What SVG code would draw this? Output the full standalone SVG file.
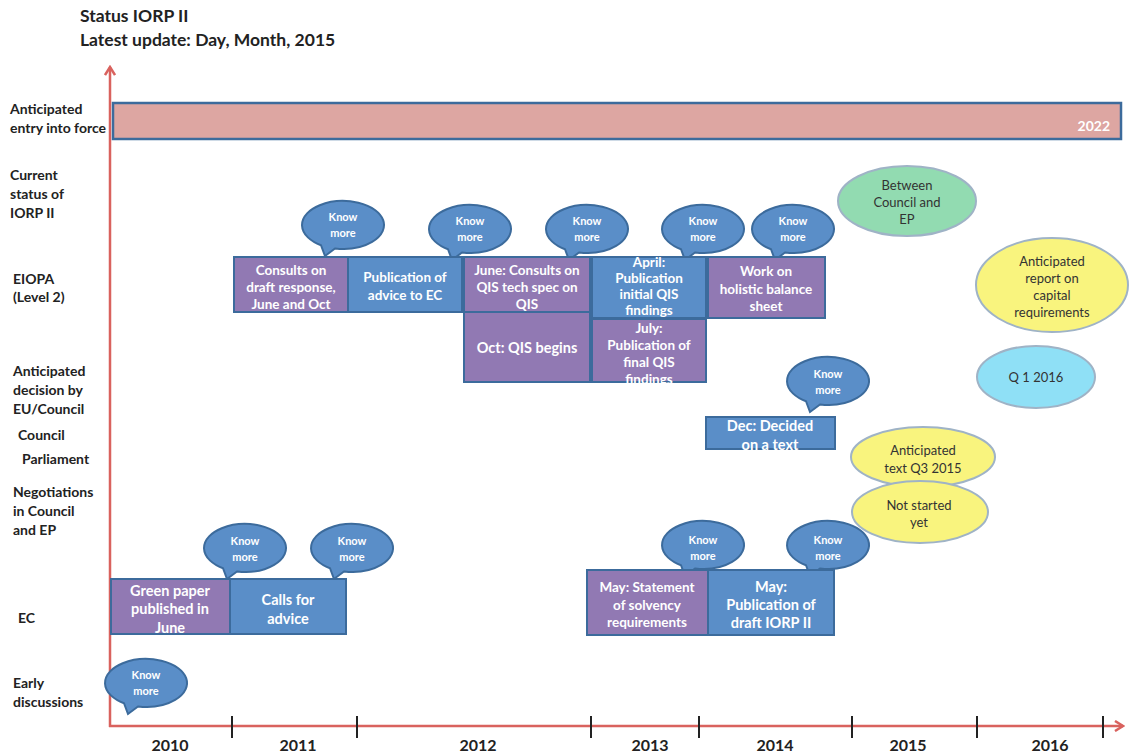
<svg xmlns="http://www.w3.org/2000/svg" xmlns:xlink="http://www.w3.org/1999/xlink" width="1131" height="755" viewBox="0 0 1131 755">
<style>
text{font-family:Lato,"Open Sans","Liberation Sans",sans-serif;font-weight:bold}
.title{font-size:17.5px;fill:#222}
.lab{font-size:14px;fill:#222}
.yr{font-size:16px;fill:#222;text-anchor:middle}
.bx{font-size:13.5px;fill:#fff;text-anchor:middle}
.bxl{font-size:14.5px;fill:#fff;text-anchor:middle}
.kn{font-size:11px;fill:#fff;text-anchor:middle}
.el{font-size:13px;fill:#333;text-anchor:middle;font-weight:normal}
.blue{fill:#5a8ec8;stroke:#3c6b9c;stroke-width:2}
.purple{fill:#9179b3;stroke:#3c6b9c;stroke-width:2}
.bub{fill:#5a8ec8;stroke:#3c6b9c;stroke-width:2}
.axis{stroke:#d9625e;stroke-width:2.5;fill:none}
.tick{stroke:#222;stroke-width:2}
.ell{stroke:#9fb3c6;stroke-width:2}
</style>
<defs>
<path id="bubble" d="M -8 23.54 A 41 24 0 1 0 -22 20.25 L -18 31 Z"/>
<marker id="arr" viewBox="0 0 12 12" refX="10" refY="6" markerWidth="12" markerHeight="12" markerUnits="userSpaceOnUse" orient="auto">
<polyline points="2,1 10,6 2,11" fill="none" stroke="#d9625e" stroke-width="2.5"/>
</marker>
</defs>
<rect width="1131" height="755" fill="#fff"/>

<g id="title">
<text class="title" x="80" y="22">Status IORP II</text>
<text class="title" x="80" y="46">Latest update: Day, Month, 2015</text>
</g>

<g id="row-labels">
<text class="lab" x="10" y="114">Anticipated</text>
<text class="lab" x="10" y="133">entry into force</text>
<text class="lab" x="10" y="180">Current</text>
<text class="lab" x="10" y="199">status of</text>
<text class="lab" x="10" y="218">IORP II</text>
<text class="lab" x="13" y="284">EIOPA</text>
<text class="lab" x="13" y="302">(Level 2)</text>
<text class="lab" x="13" y="376">Anticipated</text>
<text class="lab" x="13" y="395">decision by</text>
<text class="lab" x="13" y="414">EU/Council</text>
<text class="lab" x="18" y="440">Council</text>
<text class="lab" x="22" y="464">Parliament</text>
<text class="lab" x="13" y="497">Negotiations</text>
<text class="lab" x="13" y="516">in Council</text>
<text class="lab" x="13" y="535">and EP</text>
<text class="lab" x="18" y="623">EC</text>
<text class="lab" x="13" y="688">Early</text>
<text class="lab" x="13" y="707">discussions</text>
</g>

<g id="connectors">
<line class="axis" x1="110" y1="727" x2="110" y2="67" marker-end="url(#arr)"/>
<line class="axis" x1="109" y1="726" x2="1123" y2="726" marker-end="url(#arr)"/>
<line class="tick" x1="232" y1="716" x2="232" y2="738"/>
<line class="tick" x1="357" y1="716" x2="357" y2="738"/>
<line class="tick" x1="591" y1="716" x2="591" y2="738"/>
<line class="tick" x1="699" y1="716" x2="699" y2="738"/>
<line class="tick" x1="852" y1="716" x2="852" y2="738"/>
<line class="tick" x1="977" y1="716" x2="977" y2="738"/>
<line class="tick" x1="1103" y1="716" x2="1103" y2="738"/>
</g>

<g id="years">
<text class="yr" x="170" y="751">2010</text>
<text class="yr" x="298" y="751">2011</text>
<text class="yr" x="478" y="751">2012</text>
<text class="yr" x="650" y="751">2013</text>
<text class="yr" x="775" y="751">2014</text>
<text class="yr" x="908" y="751">2015</text>
<text class="yr" x="1050" y="751">2016</text>
</g>

<g id="entry-into-force">
<rect x="113" y="103" width="1008" height="36" fill="#dda6a2" stroke="#3c6b9c" stroke-width="2.5"/>
<text x="1110" y="131" font-size="14" fill="#fff" text-anchor="end">2022</text>
</g>

<g id="bubble-eiopa-1"><use xlink:href="#bubble" href="#bubble" x="343" y="225" class="bub"/><text class="kn" x="343" y="221">Know</text><text class="kn" x="343" y="237">more</text></g>
<g id="bubble-eiopa-2"><use xlink:href="#bubble" href="#bubble" x="470" y="229" class="bub"/><text class="kn" x="470" y="225">Know</text><text class="kn" x="470" y="241">more</text></g>
<g id="bubble-eiopa-3"><use xlink:href="#bubble" href="#bubble" x="587" y="229" class="bub"/><text class="kn" x="587" y="225">Know</text><text class="kn" x="587" y="241">more</text></g>
<g id="bubble-eiopa-4"><use xlink:href="#bubble" href="#bubble" x="703" y="229" class="bub"/><text class="kn" x="703" y="225">Know</text><text class="kn" x="703" y="241">more</text></g>
<g id="bubble-eiopa-5"><use xlink:href="#bubble" href="#bubble" x="793" y="229" class="bub"/><text class="kn" x="793" y="225">Know</text><text class="kn" x="793" y="241">more</text></g>
<g id="bubble-dec"><use xlink:href="#bubble" href="#bubble" x="828" y="381" class="bub"/><text class="kn" x="828" y="378">Know</text><text class="kn" x="828" y="394">more</text></g>
<g id="bubble-ec-1"><use xlink:href="#bubble" href="#bubble" x="245" y="548" class="bub"/><text class="kn" x="245" y="545">Know</text><text class="kn" x="245" y="561">more</text></g>
<g id="bubble-ec-2"><use xlink:href="#bubble" href="#bubble" x="352" y="548" class="bub"/><text class="kn" x="352" y="545">Know</text><text class="kn" x="352" y="561">more</text></g>
<g id="bubble-ec-3"><use xlink:href="#bubble" href="#bubble" x="703" y="545" class="bub"/><text class="kn" x="703" y="544">Know</text><text class="kn" x="703" y="560">more</text></g>
<g id="bubble-ec-4"><use xlink:href="#bubble" href="#bubble" x="828" y="545" class="bub"/><text class="kn" x="828" y="544">Know</text><text class="kn" x="828" y="560">more</text></g>
<g id="bubble-early"><use xlink:href="#bubble" href="#bubble" x="146" y="683" class="bub"/><text class="kn" x="146" y="679">Know</text><text class="kn" x="146" y="695">more</text></g>

<g id="eiopa-consults">
<rect class="purple" x="234" y="257" width="114" height="55"/>
<text class="bx" x="291" y="275">Consults on</text>
<text class="bx" x="291" y="292">draft response,</text>
<text class="bx" x="291" y="309">June and Oct</text>
</g>
<g id="eiopa-advice">
<rect class="blue" x="348" y="257" width="114" height="55"/>
<text class="bx" x="405" y="282">Publication of</text>
<text class="bx" x="405" y="300">advice to EC</text>
</g>
<g id="eiopa-qis-spec">
<rect class="purple" x="464" y="257" width="126" height="55"/>
<text class="bx" x="527" y="275">June: Consults on</text>
<text class="bx" x="527" y="292">QIS tech spec on</text>
<text class="bx" x="527" y="309">QIS</text>
</g>
<g id="eiopa-april">
<rect class="blue" x="592" y="257" width="114" height="61"/>
<text class="bx" x="649" y="267">April:</text>
<text class="bx" x="649" y="283">Publication</text>
<text class="bx" x="649" y="299">initial QIS</text>
<text class="bx" x="649" y="315">findings</text>
</g>
<g id="eiopa-holistic">
<rect class="purple" x="708" y="257" width="117" height="61"/>
<text class="bx" x="766" y="276">Work on</text>
<text class="bx" x="766" y="294">holistic balance</text>
<text class="bx" x="766" y="311">sheet</text>
</g>
<g id="eiopa-qis-begins">
<rect class="purple" x="464" y="312" width="126" height="70"/>
<text class="bxl" x="527" y="353">Oct: QIS begins</text>
</g>
<g id="eiopa-july">
<rect class="purple" x="592" y="319" width="114" height="63"/>
<text class="bx" x="649" y="333">July:</text>
<text class="bx" x="649" y="350">Publication of</text>
<text class="bx" x="649" y="367">final QIS</text>
<text class="bx" x="649" y="384">findings</text>
</g>

<g id="council-dec">
<rect class="blue" x="706" y="417" width="129" height="32"/>
<text class="bxl" x="770" y="431" font-size="15">Dec: Decided</text>
<text class="bxl" x="770" y="450" font-size="15">on a text</text>
</g>

<g id="ec-green-paper">
<rect class="purple" x="111" y="579" width="119" height="55"/>
<text class="bxl" x="170" y="596">Green paper</text>
<text class="bxl" x="170" y="614">published in</text>
<text class="bxl" x="170" y="633">June</text>
</g>
<g id="ec-calls">
<rect class="blue" x="230" y="579" width="116" height="55"/>
<text class="bxl" x="288" y="605">Calls for</text>
<text class="bxl" x="288" y="624">advice</text>
</g>
<g id="ec-solvency">
<rect class="purple" x="587" y="570" width="121" height="65"/>
<text class="bx" x="647" y="592">May: Statement</text>
<text class="bx" x="647" y="610">of solvency</text>
<text class="bx" x="647" y="627">requirements</text>
</g>
<g id="ec-draft">
<rect class="blue" x="708" y="570" width="126" height="65"/>
<text class="bxl" x="771" y="592" font-size="15">May:</text>
<text class="bxl" x="771" y="610" font-size="15">Publication of</text>
<text class="bxl" x="771" y="628" font-size="15">draft IORP II</text>
</g>

<g id="status-between">
<ellipse class="ell" cx="907" cy="201" rx="69" ry="35" fill="#92dbb1"/>
<text class="el" x="907" y="190">Between</text>
<text class="el" x="907" y="207">Council and</text>
<text class="el" x="907" y="224">EP</text>
</g>
<g id="report-capital">
<ellipse class="ell" cx="1052" cy="285" rx="76" ry="47" fill="#f9f47e"/>
<text class="el" x="1052" y="266">Anticipated</text>
<text class="el" x="1052" y="283">report on</text>
<text class="el" x="1052" y="300">capital</text>
<text class="el" x="1052" y="317">requirements</text>
</g>
<g id="decision-q1">
<ellipse class="ell" cx="1036" cy="377" rx="59" ry="31" fill="#8fe0f6"/>
<text class="el" x="1036" y="382" font-size="14">Q 1 2016</text>
</g>
<g id="parliament-text">
<ellipse class="ell" cx="923" cy="457" rx="72" ry="30" fill="#f9f47e"/>
<text class="el" x="923" y="455">Anticipated</text>
<text class="el" x="923" y="473">text Q3 2015</text>
</g>
<g id="negotiations">
<ellipse class="ell" cx="920" cy="512" rx="68" ry="31" fill="#f9f47e"/>
<text class="el" x="919" y="510">Not started</text>
<text class="el" x="919" y="527">yet</text>
</g>
</svg>
